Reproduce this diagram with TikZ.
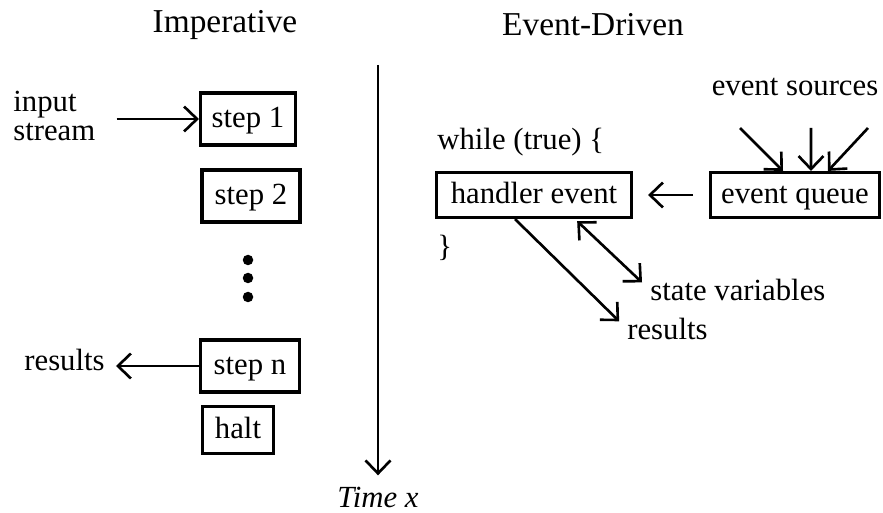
\documentclass[tikz,border=0pt]{standalone}
\usepackage{fontspec}
\setmainfont{Liberation Serif}
\usetikzlibrary{arrows.meta, positioning}
\tikzset{
  stepbox/.style ={rectangle, draw, line width=1.8pt, font=\fontsize{17.5}{20}\selectfont,
                   minimum height=1.04cm, inner xsep=6pt, text height=13.5pt, text depth=3.5pt},
  evbox/.style   ={stepbox, minimum height=0.9cm},
  lbl/.style     ={font=\fontsize{17.5}{16}\selectfont, inner sep=0pt, align=left},
  head/.style    ={lbl, font=\fontsize{19}{20}\selectfont},
  dot/.style     ={circle, fill, inner sep=0pt, minimum size=0.21cm},
  ar/.style      ={-{Straight Barb[length=2.6mm,width=5mm]}, line width=1.5pt},
  dar/.style     ={ar, {Straight Barb[length=2.6mm,width=5mm]}-{Straight Barb[length=2.6mm,width=5mm]}},
}
\begin{document}
\begin{tikzpicture}[x=0.02cm, y=-0.02cm]
\useasboundingbox (0,0) rectangle (883,513);
% headings
\node[head] (imp) at (225,25) {Imperative};
\node[head] (evd) at (593,25) {Event-Driven};

% imperative column
\node[stepbox, minimum width=1.9cm]  (s1) at (248,119) {step 1};
\node[stepbox, minimum width=1.96cm] (s2) at (251,196) {step 2};
\node[dot] (d1) at (248,260) {};
\node[dot] (d2) at (248,278) {};
\node[dot] (d3) at (248,297) {};
\node[stepbox, minimum width=1.98cm] (sn) at (250,366) {step n};
\node[stepbox, minimum width=1.42cm, minimum height=0.94cm] (ht) at (238,430) {halt};
\node[lbl, anchor=west] (inp)  at (13,116) {input\\stream};
\node[lbl, anchor=east] (res1) at (105,360) {results};
\draw[ar, shorten <=0.42cm] (inp.east |- s1.west) -- (s1.west);
\draw[ar, shorten >=0.22cm] (sn.west) -- (sn.west -| res1.east);

% time axis
\coordinate (t0) at (378,65);
\node[lbl, font=\fontsize{17.5}{16}\selectfont\itshape] (tx) at (378,497) {Time x};
\draw[ar] (t0) -- ([yshift=0.22cm]tx.north);

% event-driven column
\node[lbl, anchor=west] (wh) at (437,142) {while (true) \{};
\node[evbox, minimum width=3.9cm] (he) at (534,195) {handler event};
\node[lbl, anchor=west] (cb) at (437,248) {\}};
\node[evbox, minimum width=3.3cm] (eq) at (795,195) {event queue};
\node[lbl] (es) at (795,87) {event sources};
\coordinate (src1) at (740,128);
\coordinate (src2) at (811,128);
\coordinate (src3) at (868,128);
\draw[ar] (src1) -- ([xshift=-0.24cm]eq.north);
\draw[ar] (src2) -- ([xshift=0.32cm]eq.north);
\draw[ar] (src3) -- ([xshift=0.66cm]eq.north);
\draw[ar, shorten <=0.32cm, shorten >=0.3cm] (eq.west) -- (he.east);
\node[lbl, anchor=west] (sv)   at (650,290) {state variables};
\node[lbl, anchor=west] (res2) at (627,329) {results};
\draw[dar, shorten <=0.06cm, shorten >=0.22cm] ([xshift=0.82cm]he.south) -- (sv.west);
\draw[ar, shorten >=0.22cm] ([xshift=-0.38cm]he.south) -- (res2.west);
\end{tikzpicture}
\end{document}
